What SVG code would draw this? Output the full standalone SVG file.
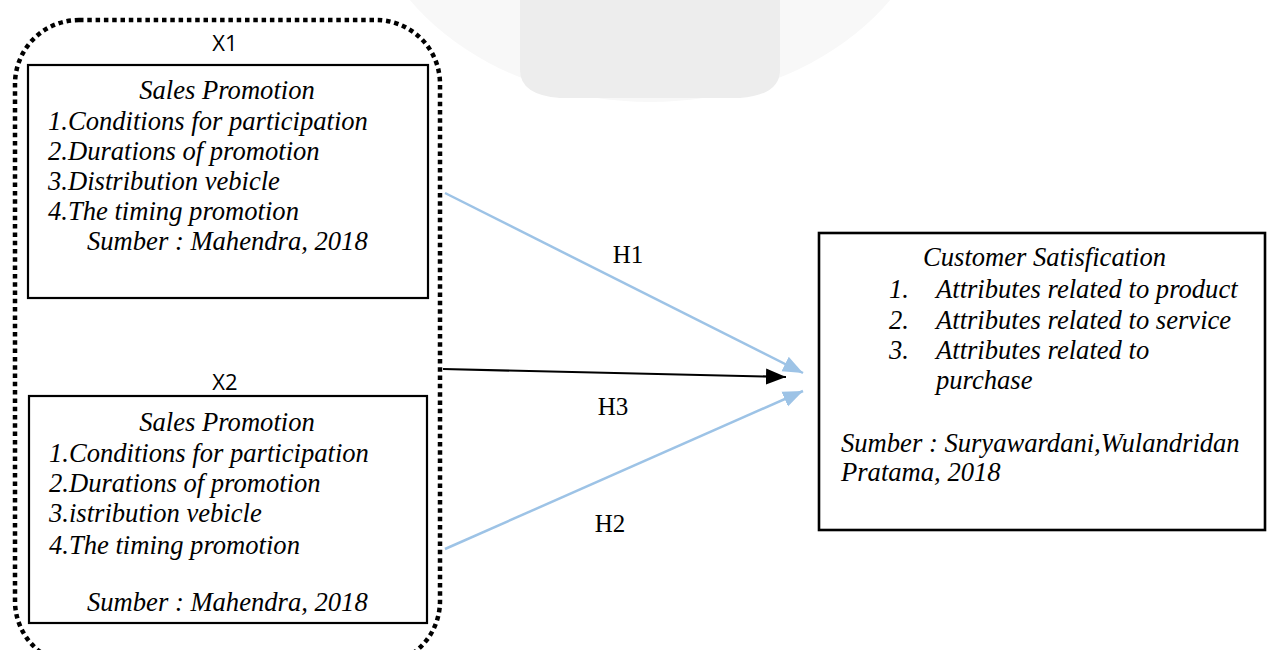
<svg xmlns="http://www.w3.org/2000/svg" width="1267" height="650" viewBox="0 0 1267 650">
  <style>
    .t { font-family: 'Liberation Serif', serif; font-style: italic; font-size: 26.6px; fill: #000; }
    .h { font-family: 'Liberation Serif', serif; font-size: 25px; fill: #000; text-anchor: middle; }
    .x { font-family: 'Open Sans', 'Liberation Sans', sans-serif; font-size: 22px; fill: #000; text-anchor: middle; }
    .box { fill: none; stroke: #000; stroke-width: 2.2; }
    .blue { stroke: #9dc3e6; stroke-width: 2.5; fill: none; }
    .black { stroke: #000; stroke-width: 2.2; fill: none; }
  </style>
  <defs>
    <marker id="ab" markerUnits="userSpaceOnUse" markerWidth="22" markerHeight="18" refX="20" refY="9" orient="auto">
      <path d="M0,1 L20,9 L0,17 Z" fill="#9dc3e6"/>
    </marker>
    <marker id="ak" markerUnits="userSpaceOnUse" markerWidth="22" markerHeight="18" refX="20" refY="9" orient="auto">
      <path d="M0,1 L20,9 L0,17 Z" fill="#000"/>
    </marker>
  </defs>
  <rect width="1267" height="650" fill="#fff"/>
  <g id="watermark">
    <ellipse cx="650" cy="-130" rx="290" ry="232" fill="#f8f8f8"/>
    <path d="M520,0 L780,0 L780,70 Q780,95 740,98 L560,98 Q520,95 520,70 Z" fill="#ededed"/>
  </g>
  <g id="group-x">
    <rect x="15" y="20" width="425" height="645" rx="64" ry="64" fill="none" stroke="#000" stroke-width="4.5" stroke-dasharray="4.5 3.8"/>
  </g>
  <g id="node-x1">
    <text class="x" x="225" y="51">X1</text>
    <rect class="box" x="28" y="65" width="400" height="233"/>
    <text class="t" x="227" y="99" text-anchor="middle">Sales Promotion</text>
    <text class="t" x="48" y="130">1.Conditions for participation</text>
    <text class="t" x="48" y="160">2.Durations of promotion</text>
    <text class="t" x="48" y="190">3.Distribution vebicle</text>
    <text class="t" x="48" y="220">4.The timing promotion</text>
    <text class="t" x="87" y="250">Sumber : Mahendra, 2018</text>
  </g>
  <g id="node-x2">
    <text class="x" x="225" y="390">X2</text>
    <rect class="box" x="29" y="396" width="398" height="227"/>
    <text class="t" x="227" y="431" text-anchor="middle">Sales Promotion</text>
    <text class="t" x="49" y="462">1.Conditions for participation</text>
    <text class="t" x="49" y="492">2.Durations of promotion</text>
    <text class="t" x="49" y="522">3.istribution vebicle</text>
    <text class="t" x="49" y="554">4.The timing promotion</text>
    <text class="t" x="87" y="611">Sumber : Mahendra, 2018</text>
  </g>
  <g id="node-y">
    <rect x="819" y="233" width="446" height="297" fill="none" stroke="#000" stroke-width="2.6"/>
    <text class="t" x="923" y="266">Customer Satisfication</text>
    <text class="t" x="889" y="298">1.</text>
    <text class="t" x="936" y="298">Attributes related to product</text>
    <text class="t" x="889" y="329">2.</text>
    <text class="t" x="936" y="329">Attributes related to service</text>
    <text class="t" x="889" y="359">3.</text>
    <text class="t" x="936" y="359">Attributes related to</text>
    <text class="t" x="936" y="389">purchase</text>
    <text class="t" x="841" y="452">Sumber : Suryawardani,Wulandridan</text>
    <text class="t" x="841" y="481">Pratama, 2018</text>
  </g>
  <g id="connectors">
    <line class="blue" x1="445" y1="193" x2="803" y2="373" marker-end="url(#ab)"/>
    <line class="black" x1="443" y1="369" x2="786" y2="377" marker-end="url(#ak)"/>
    <line class="blue" x1="445" y1="549" x2="803" y2="391" marker-end="url(#ab)"/>
    <text class="h" x="628" y="263">H1</text>
    <text class="h" x="613" y="415">H3</text>
    <text class="h" x="610" y="532">H2</text>
  </g>
</svg>
